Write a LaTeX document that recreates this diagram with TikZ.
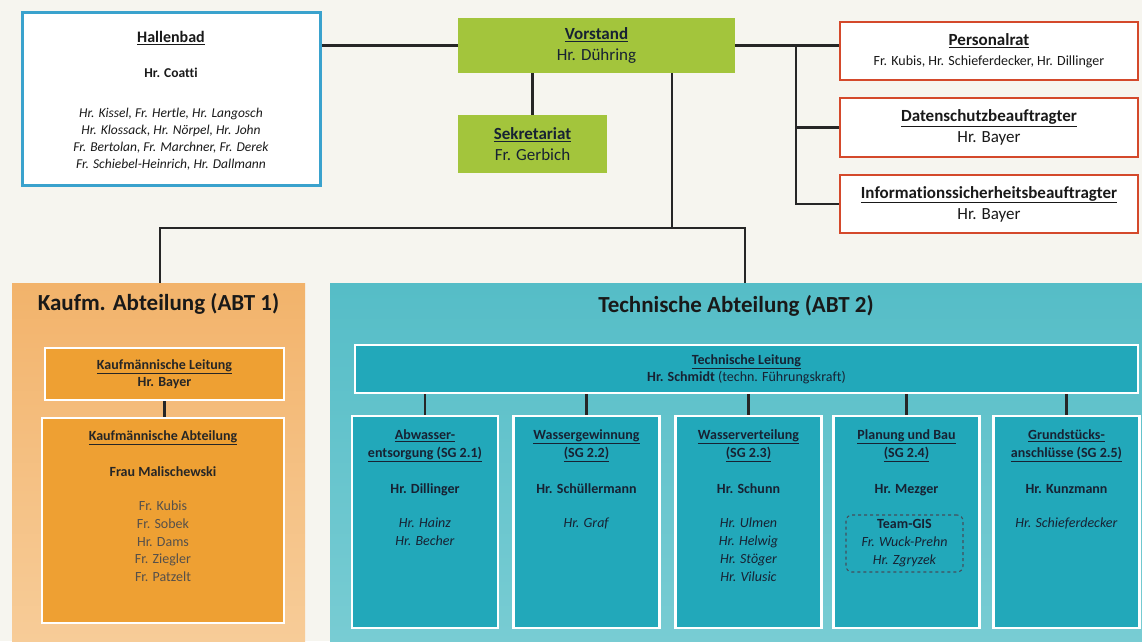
\documentclass[tikz,border=0pt]{standalone}
\usepackage{fontspec}
\setmainfont{Carlito}[Ligatures=NoCommon]
\usetikzlibrary{positioning}
\definecolor{paper}{HTML}{F6F5EF}
\definecolor{boardgreen}{HTML}{A3C53C}
\definecolor{poolblue}{HTML}{3AA2CD}
\definecolor{councilred}{HTML}{D4492B}
\definecolor{abtorange}{HTML}{F2B36B}
\definecolor{abtorangelight}{HTML}{F7CC98}
\definecolor{unitorange}{HTML}{EEA033}
\definecolor{abtteal}{HTML}{55BDC7}
\definecolor{abtteallight}{HTML}{78CCD3}
\definecolor{unitteal}{HTML}{22A8BA}
\definecolor{inkblue}{HTML}{172233}
\definecolor{staffgray}{HTML}{56504A}
\tikzstyle{link}=[draw=black!85,line width=2.2pt]
\tikzstyle{drop}=[draw=black!85,line width=2.6pt]
\tikzstyle{board}=[fill=boardgreen,text=inkblue,font=\fontsize{17}{21}\selectfont]
\tikzstyle{council}=[draw=councilred,line width=2.4pt,fill=white,text=black!90,font=\fontsize{17}{21}\selectfont]
\tikzstyle{pool}=[draw=poolblue,line width=3pt,fill=white,text=black!90]
\tikzstyle{abt1}=[top color=abtorange,bottom color=abtorangelight,text=black!90]
\tikzstyle{abt2}=[top color=abtteal,bottom color=abtteallight,text=black!90]
\tikzstyle{unit1}=[fill=unitorange,draw=white,line width=2.5pt,text=black!85,font=\fontsize{14}{17}\selectfont]
\tikzstyle{unit2}=[fill=unitteal,draw=white,line width=2.5pt,text=inkblue,font=\fontsize{14}{17}\selectfont]
\tikzstyle{team}=[draw=inkblue!80,dashed,rounded corners=6pt,line width=1.1pt,text=inkblue,font=\fontsize{14}{18}\selectfont]
% centred box: name, style, position, width, height, text
\newcommand{\newBox}[6]{\node[#2,minimum width=#4,minimum height=#5,inner sep=0pt,align=center](#1) at #3 {#6};}
% box with its text from the top: name, style, position, width, height, gap, text
\newcommand{\newUnit}[7]{\node[#2,inner sep=0pt](#1) at #3 {\parbox[c][#5][t]{#4}{\centering\vspace*{#6}#7}};}

\begin{document}
\begin{tikzpicture}[x=1pt,y=-1pt]
  \useasboundingbox (0,0) rectangle (1142,641);
  \fill[paper] (0,0) rectangle (1142,641);

  % management level
  \newUnit{hallenbad}{pool}{(171,98.5)}{298pt}{173pt}{19pt}{%
    {\fontsize{16}{19}\selectfont\textbf{\underline{Hallenbad}}}\\[18pt]
    \fontsize{13.5}{17}\selectfont\textbf{Hr. Coatti}\\[23pt]
    \textit{Hr. Kissel, Fr. Hertle, Hr. Langosch}\\
    \textit{Hr. Klossack, Hr. Nörpel, Hr. John}\\
    \textit{Fr. Bertolan, Fr. Marchner, Fr. Derek}\\
    \textit{Fr. Schiebel-Heinrich, Hr. Dallmann}}
  \newBox{vorstand}{board}{(596.5,45.5)}{277pt}{55pt}{\textbf{\underline{Vorstand}}\\Hr. Dühring}
  \newBox{sekretariat}{board}{(532.5,144)}{149pt}{58pt}{\textbf{\underline{Sekretariat}}\\Fr. Gerbich}
  \newBox{personalrat}{council}{(989,51)}{298pt}{58pt}{\textbf{\underline{Personalrat}}\\[-1pt]
    {\fontsize{14}{18}\selectfont Fr. Kubis, Hr. Schieferdecker, Hr. Dillinger}}
  \newBox{datenschutz}{council}{(989,127.5)}{298pt}{59pt}{\textbf{\underline{Datenschutzbeauftragter}}\\Hr. Bayer}
  \newBox{infosec}{council}{(989,204)}{298pt}{58pt}{\textbf{\underline{Informationssicherheitsbeauftragter}}\\Hr. Bayer}

  \draw[link] (vorstand.west) -- (vorstand.west -| hallenbad.east);
  \draw[link] (vorstand.east) -- (vorstand.east -| personalrat.west);
  \coordinate (rbus) at (796,45.5);
  \draw[link] (rbus) |- (datenschutz.west);
  \draw[link] (rbus) |- (infosec.west);
  \draw[link] (sekretariat.north) -- (sekretariat.north |- vorstand.south);

  % departments
  \newUnit{kaufm}{abt1}{(158.5,462)}{293pt}{358pt}{10pt}{%
    \fontsize{23}{28}\selectfont\textbf{Kaufm. Abteilung (ABT 1)}}
  \newUnit{technik}{abt2}{(736,462)}{812pt}{358pt}{12pt}{%
    \fontsize{23}{28}\selectfont\textbf{Technische Abteilung (ABT 2)}}

  \coordinate (fork) at (672,228);
  \draw[link] (fork |- vorstand.south) -- (fork);
  \draw[link] ([xshift=1.5pt]kaufm.north) |- (fork) -| ([xshift=9pt]technik.north);

  % Abteilung 1
  \newBox{kleitung}{unit1}{(164.5,374)}{239pt}{52pt}{\textbf{\underline{Kaufmännische Leitung}}\\\textbf{Hr. Bayer}}
  \newUnit{kabteilung}{unit1}{(163,520.5)}{242pt}{205pt}{13pt}{%
    \fontsize{14}{17.7}\selectfont\textbf{\underline{Kaufmännische Abteilung}}\\[18.3pt]
    \textbf{Frau Malischewski}\\[16.3pt]
    \color{staffgray}Fr. Kubis\\Fr. Sobek\\Hr. Dams\\Fr. Ziegler\\Fr. Patzelt}
  \draw[drop] (kleitung.south) -- (kleitung.south |- kabteilung.north);

  % Abteilung 2
  \newBox{tleitung}{unit2}{(746.5,369)}{783pt}{48pt}{\textbf{\underline{Technische Leitung}}\\\textbf{Hr. Schmidt} (techn. Führungskraft)}
  \newUnit{sg1}{unit2}{(425,522)}{146pt}{212pt}{14pt}{\fontsize{14}{18}\selectfont
    \textbf{\underline{Abwasser-}}\\\textbf{\underline{entsorgung (SG 2.1)}}\\[18pt]
    \textbf{Hr. Dillinger}\\[16pt]\textit{Hr. Hainz}\\\textit{Hr. Becher}}
  \newUnit{sg2}{unit2}{(586.5,522)}{146pt}{212pt}{14pt}{\fontsize{14}{18}\selectfont
    \textbf{\underline{Wassergewinnung}}\\\textbf{\underline{(SG 2.2)}}\\[18pt]
    \textbf{Hr. Schüllermann}\\[16pt]\textit{Hr. Graf}}
  \newUnit{sg3}{unit2}{(748.5,522)}{146pt}{212pt}{14pt}{\fontsize{14}{18}\selectfont
    \textbf{\underline{Wasserverteilung}}\\\textbf{\underline{(SG 2.3)}}\\[18pt]
    \textbf{Hr. Schunn}\\[16pt]\textit{Hr. Ulmen}\\\textit{Hr. Helwig}\\\textit{Hr. Stöger}\\\textit{Hr. Vilusic}}
  \newUnit{sg4}{unit2}{(906.5,522)}{146pt}{212pt}{14pt}{\fontsize{14}{18}\selectfont
    \textbf{\underline{Planung und Bau}}\\\textbf{\underline{(SG 2.4)}}\\[18pt]
    \textbf{Hr. Mezger}}
  \newUnit{sg5}{unit2}{(1066.5,522)}{146pt}{212pt}{14pt}{\fontsize{14}{18}\selectfont
    \textbf{\underline{Grundstücks-}}\\\textbf{\underline{anschlüsse (SG 2.5)}}\\[18pt]
    \textbf{Hr. Kunzmann}\\[16pt]\textit{Hr. Schieferdecker}}
  \newBox{teamgis}{team}{(904.5,543.5)}{117pt}{57pt}{\textbf{Team-GIS}\\\textit{Fr. Wuck-Prehn}\\\textit{Hr. Zgryzek}}

  \foreach \i in {1,...,5}
    \draw[drop] (sg\i.north) -- (sg\i.north |- tleitung.south);
\end{tikzpicture}
\end{document}
